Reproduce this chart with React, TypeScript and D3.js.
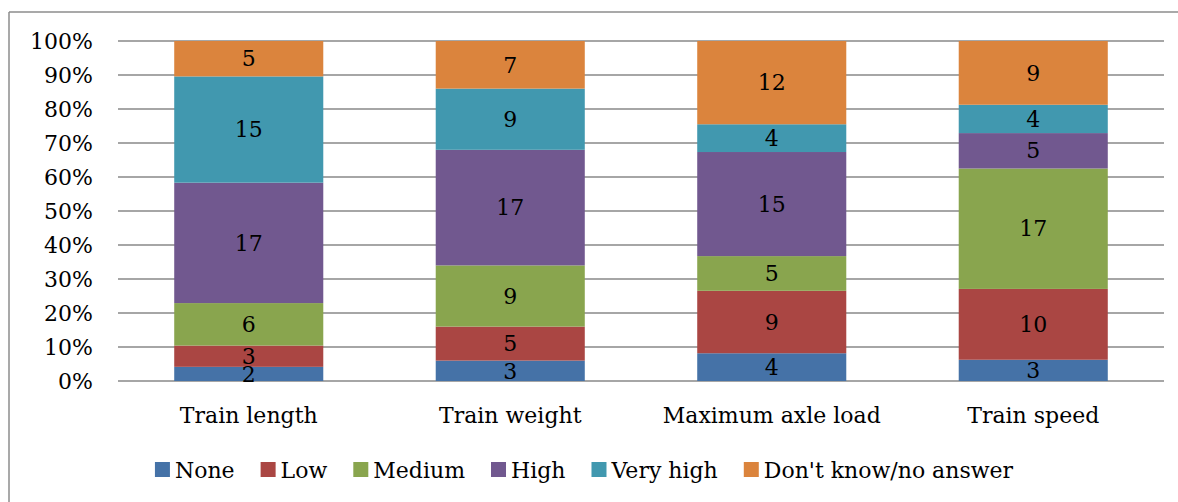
import React, { useEffect, useRef } from 'react';
import * as d3 from 'd3';

const categories = ['Train length', 'Train weight', 'Maximum axle load', 'Train speed'];
const seriesNames = ['None', 'Low', 'Medium', 'High', 'Very high', "Don't know/no answer"];
const noneVals = [2, 3, 4, 3];
const lowVals = [3, 5, 9, 10];
const mediumVals = [6, 9, 5, 17];
const highVals = [17, 17, 15, 5];
const veryHighVals = [15, 9, 4, 4];
const dontKnowVals = [5, 7, 12, 9];
const yTicks = [0, 0.1, 0.2, 0.3, 0.4, 0.5, 0.6, 0.7, 0.8, 0.9, 1];
const colors = ['#4572A7', '#AA4643', '#89A54E', '#71588F', '#4198AF', '#DB843D'];

const FONT = '"DejaVu Serif", serif';
const FS = '22px';

const App = () => {
  const ref = useRef<SVGSVGElement>(null);

  useEffect(() => {
    document.body.style.margin = '0';
    document.body.style.overflow = 'hidden';
    document.body.style.background = 'white';
    document.documentElement.style.overflow = 'hidden';

    const svg = d3.select(ref.current);
    svg.selectAll('*').remove();

    const left = 118, right = 1164, top = 41, bottom = 381;

    svg.append('rect')
      .attr('x', 0).attr('y', 0)
      .attr('width', 1178).attr('height', 502)
      .attr('fill', 'white');

    // chart frame: only top and left edges are inside the picture
    svg.append('line')
      .attr('x1', 9).attr('x2', 1178).attr('y1', 12).attr('y2', 12)
      .attr('stroke', '#8c8c8c').attr('stroke-width', 1.5);
    svg.append('line')
      .attr('x1', 9).attr('x2', 9).attr('y1', 12).attr('y2', 502)
      .attr('stroke', '#8c8c8c').attr('stroke-width', 1.5);

    const allVals = [noneVals, lowVals, mediumVals, highVals, veryHighVals, dontKnowVals];
    const rows = categories.map((c, i) => {
      const r: any = { cat: c };
      seriesNames.forEach((s, j) => { r[s] = allVals[j][i]; });
      return r;
    });

    const stack = d3.stack().keys(seriesNames).offset(d3.stackOffsetExpand);
    const layers = stack(rows);

    const x = d3.scaleBand().domain(categories).range([left, right]).paddingInner(0.43).paddingOuter(0.215);
    const y = d3.scaleLinear().domain([0, 1]).range([bottom, top]);

    // gridlines
    svg.append('g').selectAll('line')
      .data(yTicks)
      .join('line')
      .attr('x1', left).attr('x2', right)
      .attr('y1', d => y(d)).attr('y2', d => y(d))
      .attr('stroke', '#888').attr('stroke-width', 1.5);

    // y labels
    svg.append('g').selectAll('text')
      .data(yTicks)
      .join('text')
      .attr('x', 93).attr('y', d => y(d))
      .attr('dy', '0.35em')
      .attr('text-anchor', 'end')
      .style('font-family', FONT).style('font-size', FS)
      .text(d => d3.format('.0%')(d));

    // bars
    layers.forEach((layer, li) => {
      svg.append('g').selectAll('rect')
        .data(layer)
        .join('rect')
        .attr('x', (d: any) => x(d.data.cat)!)
        .attr('width', x.bandwidth())
        .attr('y', d => y(d[1]))
        .attr('height', d => y(d[0]) - y(d[1]))
        .attr('fill', colors[li]);
    });

    // data labels
    layers.forEach((layer) => {
      svg.append('g').selectAll('text')
        .data(layer)
        .join('text')
        .attr('x', (d: any) => x(d.data.cat)! + x.bandwidth() / 2)
        .attr('y', d => (y(d[0]) + y(d[1])) / 2)
        .attr('dy', '0.35em')
        .attr('text-anchor', 'middle')
        .style('font-family', FONT).style('font-size', FS)
        .text((d: any) => d.data[layer.key]);
    });

    // category labels
    svg.append('g').selectAll('text')
      .data(categories)
      .join('text')
      .attr('x', d => x(d)! + x.bandwidth() / 2)
      .attr('y', 423)
      .attr('text-anchor', 'middle')
      .style('font-family', FONT).style('font-size', FS)
      .text(d => d);

    // legend
    const gap = 26;
    const legend = svg.append('g');
    let cursor = 0;
    seriesNames.forEach((s, i) => {
      const item = legend.append('g').attr('transform', `translate(${cursor},0)`);
      item.append('rect')
        .attr('x', 0).attr('y', -8)
        .attr('width', 15).attr('height', 15)
        .attr('fill', colors[i]);
      const t = item.append('text')
        .attr('x', 20).attr('y', 0)
        .attr('dy', '0.35em')
        .style('font-family', FONT).style('font-size', FS)
        .text(s);
      const w = (t.node() as SVGTextElement).getComputedTextLength();
      cursor += 20 + w + gap;
    });
    const totalW = cursor - gap;
    legend.attr('transform', `translate(${584 - totalW / 2},470)`);
  }, []);

  return (
    <svg ref={ref} width={1178} height={502}
      style={{ display: 'block', position: 'absolute', left: 0, top: 0 }} />
  );
};

export default App;
